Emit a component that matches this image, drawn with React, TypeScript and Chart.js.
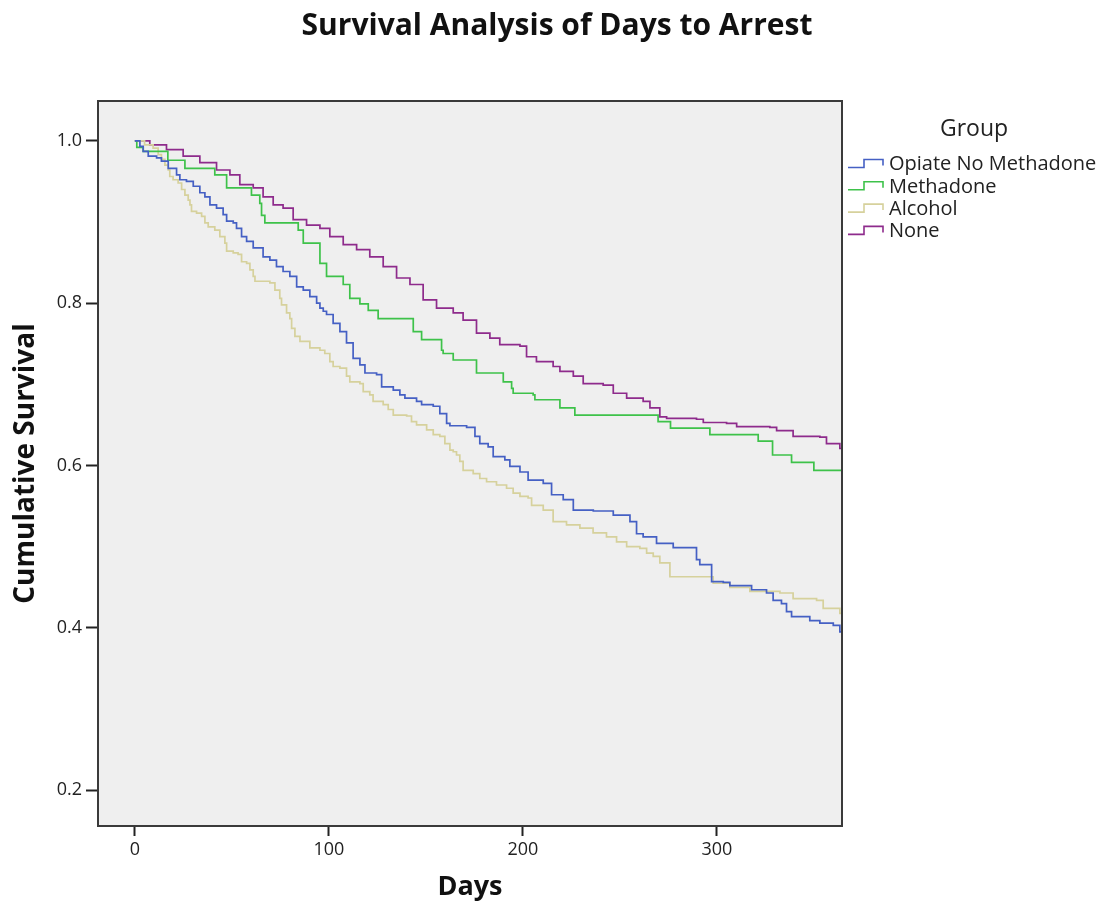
import React, { useEffect, useRef } from "react";
import { Chart, registerables } from "chart.js";

Chart.register(...registerables);

const CHART_TITLE = "Survival Analysis of Days to Arrest";
const X_TITLE = "Days";
const Y_TITLE = "Cumulative Survival";
const LEGEND_TITLE = "Group";
const GROUPS = ["Opiate No Methadone", "Methadone", "Alcohol", "None"];
const COLORS = ["#4560c4", "#3ec24a", "#d6d19c", "#8e2b8c"];
const X_TICKS = [0, 100, 200, 300];
const Y_TICKS = [0.2, 0.4, 0.6, 0.8, 1.0];
const END_DAY = 365;

const opiateDays = [0, 2.6, 4.3, 6.9, 11.2, 13.7, 17.2, 21.5, 23.2, 26.6, 30.1, 33.5, 36.1, 38.7, 42.1, 45.5, 47.3, 50.7, 52.4, 55, 57.6, 61, 66.1, 69.6, 73, 76.4, 79.9, 83.4, 86.8, 90.2, 93.7, 95.4, 97.1, 98.8, 102.2, 105.7, 109.1, 112.5, 116, 118.6, 124.6, 127.2, 133.2, 136.6, 139.2, 145.2, 147.8, 153.8, 157.2, 160.7, 162.4, 171, 175.3, 177.8, 182.1, 184.7, 190.7, 193.3, 198.5, 202.7, 210.5, 214.8, 220.8, 226, 236.3, 246.6, 255.2, 258.6, 262, 268.9, 277.5, 289.5, 291.2, 297.3, 303.3, 306.7, 317.9, 325.6, 329, 333.3, 335.9, 338.5, 347.9, 353.1, 360, 363.4];
const opiateSurv = [1.0, 0.993, 0.987, 0.981, 0.979, 0.975, 0.966, 0.958, 0.952, 0.95, 0.944, 0.936, 0.931, 0.921, 0.917, 0.909, 0.901, 0.899, 0.892, 0.882, 0.876, 0.868, 0.857, 0.853, 0.845, 0.839, 0.833, 0.82, 0.816, 0.808, 0.8, 0.794, 0.79, 0.786, 0.775, 0.765, 0.751, 0.732, 0.724, 0.714, 0.712, 0.697, 0.693, 0.687, 0.683, 0.679, 0.675, 0.673, 0.664, 0.652, 0.649, 0.647, 0.636, 0.627, 0.623, 0.611, 0.607, 0.599, 0.592, 0.582, 0.578, 0.564, 0.558, 0.545, 0.544, 0.539, 0.531, 0.516, 0.512, 0.504, 0.499, 0.484, 0.478, 0.457, 0.456, 0.452, 0.447, 0.443, 0.434, 0.43, 0.42, 0.414, 0.409, 0.406, 0.403, 0.395];

const methadoneDays = [0, 1, 4.3, 17, 25.8, 41.2, 47.3, 60.1, 64.4, 65.3, 67, 84.2, 86.8, 95.4, 98.8, 107.4, 110.8, 116, 120.3, 125.4, 143.5, 147.8, 158.1, 158.9, 164.1, 176.1, 189.9, 194.2, 195, 205.3, 206.2, 219.1, 226.8, 269.7, 276.1, 296.4, 321.3, 328.7, 338.5, 350];
const methadoneSurv = [1.0, 0.992, 0.987, 0.976, 0.966, 0.958, 0.942, 0.933, 0.923, 0.908, 0.899, 0.89, 0.874, 0.849, 0.833, 0.823, 0.806, 0.799, 0.791, 0.781, 0.765, 0.755, 0.742, 0.738, 0.73, 0.714, 0.703, 0.695, 0.689, 0.687, 0.681, 0.671, 0.662, 0.654, 0.646, 0.638, 0.63, 0.613, 0.604, 0.594];

const alcoholDays = [0, 5, 9.4, 12, 13.7, 15.5, 17.2, 18, 19.7, 22.3, 24.1, 25.8, 27.5, 28.4, 29.2, 31.8, 34.4, 36.1, 37.8, 41.2, 43.8, 46.4, 47.3, 50.7, 53.2, 55, 57.6, 59.3, 61, 61.9, 69.6, 72.2, 74.7, 75.6, 78.2, 79.9, 80.8, 82.5, 85.1, 90.2, 95.4, 97.9, 100.5, 102.2, 105.7, 109.1, 110.8, 116, 117.7, 121.1, 122.8, 128, 130.6, 133.2, 140.1, 142.6, 145.2, 150.4, 153.8, 157.2, 159.8, 162.4, 164.1, 165.8, 167.5, 169.2, 174.4, 177.8, 181.3, 186.4, 191.6, 195, 198.5, 202.7, 204.5, 210.5, 215.6, 222.5, 229.4, 236.2, 243.1, 248.3, 253.5, 260.3, 263.8, 267.2, 270.6, 275.8, 298.1, 306.7, 317, 332.5, 339.3, 351.4, 354.8, 363.4];
const alcoholSurv = [1.0, 0.995, 0.991, 0.983, 0.977, 0.97, 0.964, 0.956, 0.952, 0.948, 0.94, 0.933, 0.927, 0.921, 0.913, 0.911, 0.907, 0.899, 0.894, 0.89, 0.882, 0.874, 0.864, 0.862, 0.86, 0.851, 0.849, 0.841, 0.833, 0.827, 0.825, 0.816, 0.806, 0.798, 0.788, 0.781, 0.769, 0.759, 0.753, 0.745, 0.742, 0.738, 0.728, 0.722, 0.72, 0.71, 0.703, 0.701, 0.691, 0.687, 0.679, 0.675, 0.669, 0.662, 0.661, 0.654, 0.65, 0.644, 0.638, 0.636, 0.627, 0.619, 0.617, 0.613, 0.605, 0.594, 0.59, 0.584, 0.58, 0.576, 0.572, 0.566, 0.562, 0.56, 0.551, 0.545, 0.531, 0.527, 0.523, 0.517, 0.512, 0.506, 0.5, 0.498, 0.492, 0.488, 0.48, 0.463, 0.455, 0.45, 0.445, 0.443, 0.436, 0.434, 0.424, 0.418];

const noneDays = [0, 7.7, 16.3, 24.9, 33.5, 42.1, 49, 54.1, 61, 66.1, 71.3, 76.4, 81.6, 88.5, 95.4, 100.5, 107.4, 114.3, 121.1, 128, 134.9, 141.8, 148.6, 155.5, 164.1, 169.2, 176.1, 183, 188.1, 198.5, 201.9, 207, 215.6, 219.1, 226, 231.1, 241.4, 246.6, 253.5, 262, 265.5, 270.6, 274.1, 289.5, 293, 305, 310.2, 327.3, 330.8, 339.3, 353.1, 356.5, 363.4];
const noneSurv = [1.0, 0.995, 0.989, 0.981, 0.973, 0.964, 0.958, 0.946, 0.942, 0.931, 0.921, 0.917, 0.903, 0.896, 0.892, 0.882, 0.872, 0.866, 0.857, 0.845, 0.831, 0.823, 0.804, 0.794, 0.788, 0.779, 0.763, 0.757, 0.749, 0.747, 0.734, 0.728, 0.722, 0.716, 0.71, 0.701, 0.699, 0.689, 0.683, 0.679, 0.671, 0.66, 0.658, 0.657, 0.653, 0.652, 0.648, 0.647, 0.643, 0.636, 0.635, 0.627, 0.621];

const SERIES_DAYS = [opiateDays, methadoneDays, alcoholDays, noneDays];
const SERIES_SURV = [opiateSurv, methadoneSurv, alcoholSurv, noneSurv];

const FONT = "'Open Sans', 'DejaVu Sans', sans-serif";

function toPoints(days: number[], surv: number[]) {
  const pts = days.map((d, i) => ({ x: d, y: surv[i] }));
  pts.push({ x: END_DAY, y: surv[surv.length - 1] });
  return pts;
}

const decorPlugin = {
  id: "decor",
  beforeDraw(chart: any) {
    const { ctx, chartArea: a } = chart;
    ctx.save();
    ctx.fillStyle = "#ffffff";
    ctx.fillRect(0, 0, chart.width, chart.height);
    ctx.fillStyle = "#efefef";
    ctx.fillRect(a.left, a.top, a.right - a.left, a.bottom - a.top);
    ctx.restore();
  },
  afterDraw(chart: any) {
    const { ctx, chartArea: a } = chart;
    ctx.save();
    // frame
    ctx.strokeStyle = "#3a3a3a";
    ctx.lineWidth = 2;
    ctx.strokeRect(a.left, a.top, a.right - a.left, a.bottom - a.top);
    // title
    ctx.fillStyle = "#111";
    ctx.font = `bold 30px ${FONT}`;
    ctx.textAlign = "center";
    ctx.textBaseline = "middle";
    ctx.fillText(CHART_TITLE, 557, 26);
    // legend
    ctx.fillStyle = "#222";
    ctx.font = `23px ${FONT}`;
    ctx.fillText(LEGEND_TITLE, a.right + 132, a.top + 28);
    ctx.font = `20px ${FONT}`;
    ctx.textAlign = "left";
    chart.data.datasets.forEach((ds: any, i: number) => {
      const y = a.top + 62.5 + i * 22.3;
      const x0 = a.right + 6;
      ctx.strokeStyle = ds.borderColor;
      ctx.lineWidth = 1.6;
      ctx.beginPath();
      ctx.moveTo(x0, y + 4);
      ctx.lineTo(x0 + 16, y + 4);
      ctx.lineTo(x0 + 16, y - 4);
      ctx.lineTo(x0 + 35, y - 4);
      ctx.lineTo(x0 + 35, y + 2);
      ctx.stroke();
      ctx.fillStyle = "#222";
      ctx.fillText(ds.label, x0 + 41, y + 1);
    });
    ctx.restore();
  },
};

export default function App() {
  const ref = useRef<HTMLCanvasElement | null>(null);
  useEffect(() => {
    document.body.style.margin = "0";
    const canvas = ref.current;
    if (!canvas) return;
    const chart = new Chart(canvas, {
      type: "line",
      data: {
        datasets: GROUPS.map((g, i) => ({
          label: g,
          data: toPoints(SERIES_DAYS[i], SERIES_SURV[i]),
          borderColor: COLORS[i],
          backgroundColor: COLORS[i],
          borderWidth: 1.7,
          pointRadius: 0,
          stepped: true,
          fill: false,
        })),
      },
      options: {
        responsive: false,
        devicePixelRatio: 1,
        animation: false,
        parsing: false as any,
        layout: { padding: { top: 101, right: 266, bottom: 0, left: 0 } },
        plugins: {
          legend: { display: false },
          title: { display: false },
          tooltip: { enabled: false },
        },
        scales: {
          x: {
            type: "linear",
            min: -19,
            max: 364.5,
            afterBuildTicks: (s: any) => {
              s.ticks = X_TICKS.map((v) => ({ value: v }));
            },
            afterFit: (s: any) => {
              s.height = 77;
            },
            grid: {
              drawOnChartArea: false,
              drawTicks: true,
              tickLength: 10,
              tickColor: "#222",
              tickWidth: 2,
            },
            border: { display: false },
            ticks: {
              padding: 3,
              color: "#222",
              font: { family: FONT, size: 18 },
              maxRotation: 0,
              callback: (v: any) => String(v),
            },
            title: {
              display: true,
              text: X_TITLE,
              color: "#111",
              font: { family: FONT, size: 27, weight: "bold" },
              padding: { top: 0, bottom: -1 },
            },
          },
          y: {
            type: "linear",
            min: 0.156,
            max: 1.049,
            afterBuildTicks: (s: any) => {
              s.ticks = Y_TICKS.map((v) => ({ value: v }));
            },
            afterFit: (s: any) => {
              s.width = 98;
            },
            grid: {
              drawOnChartArea: false,
              drawTicks: true,
              tickLength: 12,
              tickColor: "#222",
              tickWidth: 2,
            },
            border: { display: false },
            ticks: {
              padding: 4,
              color: "#222",
              font: { family: FONT, size: 18 },
              callback: (v: any) => Number(v).toFixed(1),
            },
            title: {
              display: true,
              text: Y_TITLE,
              color: "#111",
              font: { family: FONT, size: 28, weight: "bold" },
              padding: { top: 9, bottom: 0 },
            },
          },
        },
      },
      plugins: [decorPlugin],
    });
    return () => chart.destroy();
  }, []);
  return (
    <div style={{ width: 1108, height: 903 }}>
      <canvas ref={ref} width={1108} height={903} style={{ display: "block" }} />
    </div>
  );
}
